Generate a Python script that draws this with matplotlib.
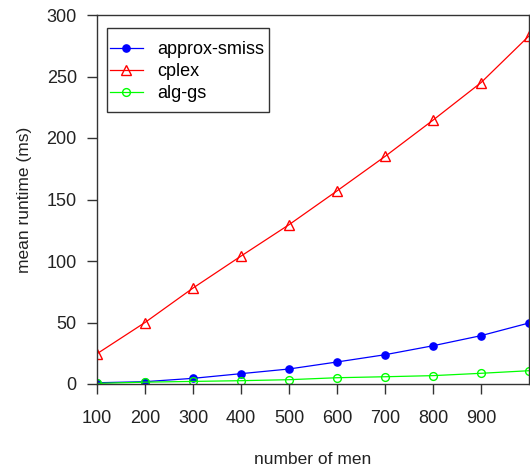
import matplotlib
matplotlib.use("Agg")
import matplotlib.pyplot as plt
from matplotlib.patches import Rectangle

plt.rcParams['font.family'] = ['Liberation Sans', 'DejaVu Sans']

n_men = [100, 200, 300, 400, 500, 600, 700, 800, 900, 1000]
approx_smiss = [1.0, 1.9, 4.6, 8.4, 12.2, 17.9, 23.8, 31.1, 39.3, 49.6]
cplex = [24.6, 50.0, 78.0, 104.0, 129.5, 157.0, 185.0, 214.5, 245.0, 283.0]
alg_gs = [0.5, 1.5, 2.1, 2.7, 3.5, 5.1, 5.9, 6.8, 8.7, 10.8]

x_ticks = [100, 200, 300, 400, 500, 600, 700, 800, 900]
y_ticks = [0, 50, 100, 150, 200, 250, 300]

W, H = 530, 470
X0, X1, Y0, Y1 = 97, 529, 15, 384
AW, AH = X1 - X0, Y1 - Y0
fig = plt.figure(figsize=(W / 100, H / 100), dpi=100)
ax = fig.add_axes([X0 / W, (H - Y1) / H, AW / W, AH / H])

ax.plot(n_men, approx_smiss, color='#0000ff', lw=0.9, marker='o', ms=5.2,
        mfc='#0000ff', mec='#0000ff', label='approx-smiss')
ax.plot(n_men, cplex, color='#ff0000', lw=0.9, marker='^', ms=7.5,
        mfc='none', mec='#ff0000', mew=1.0, label='cplex')
ax.plot(n_men, alg_gs, color='#00ff00', lw=0.9, marker='o', ms=5.6,
        mfc='none', mec='#00ff00', mew=1.0, label='alg-gs')

ax.set_xlim(100, 1000)
ax.set_ylim(0, 300)
ax.set_xticks(x_ticks)
ax.set_yticks(y_ticks)
ax.tick_params(axis='both', direction='out', length=7.5, width=1,
               colors='#333333', labelsize=13, labelcolor='#222222')
ax.tick_params(axis='x', pad=11)
ax.tick_params(axis='y', pad=7)
for s in ax.spines.values():
    s.set_color('#333333')
    s.set_linewidth(1)

ax.set_xlabel('number of men', fontsize=12.5, color='#222222', va='center')
ax.xaxis.set_label_coords(0.5, -(459 - Y1) / AH)
ax.set_ylabel('mean runtime (ms)', fontsize=12.5, color='#222222',
              va='center', ha='center')
ax.yaxis.set_label_coords(-(X0 - 25) / AW, 0.5)

leg = ax.legend(loc='upper left',
                bbox_to_anchor=((110 - X0) / AW, (Y1 - 41) / AH),
                frameon=False, fontsize=13, handlelength=1.8,
                handletextpad=0.8, borderpad=0, labelspacing=0.28,
                borderaxespad=0)

# legend frame
ax.add_patch(Rectangle(((107 - X0) / AW, (Y1 - 112) / AH),
                       (269 - 107) / AW, (112 - 28) / AH,
                       transform=ax.transAxes, fill=False,
                       edgecolor='#333333', lw=1, zorder=5))

fig.savefig('out.png', dpi=100)
